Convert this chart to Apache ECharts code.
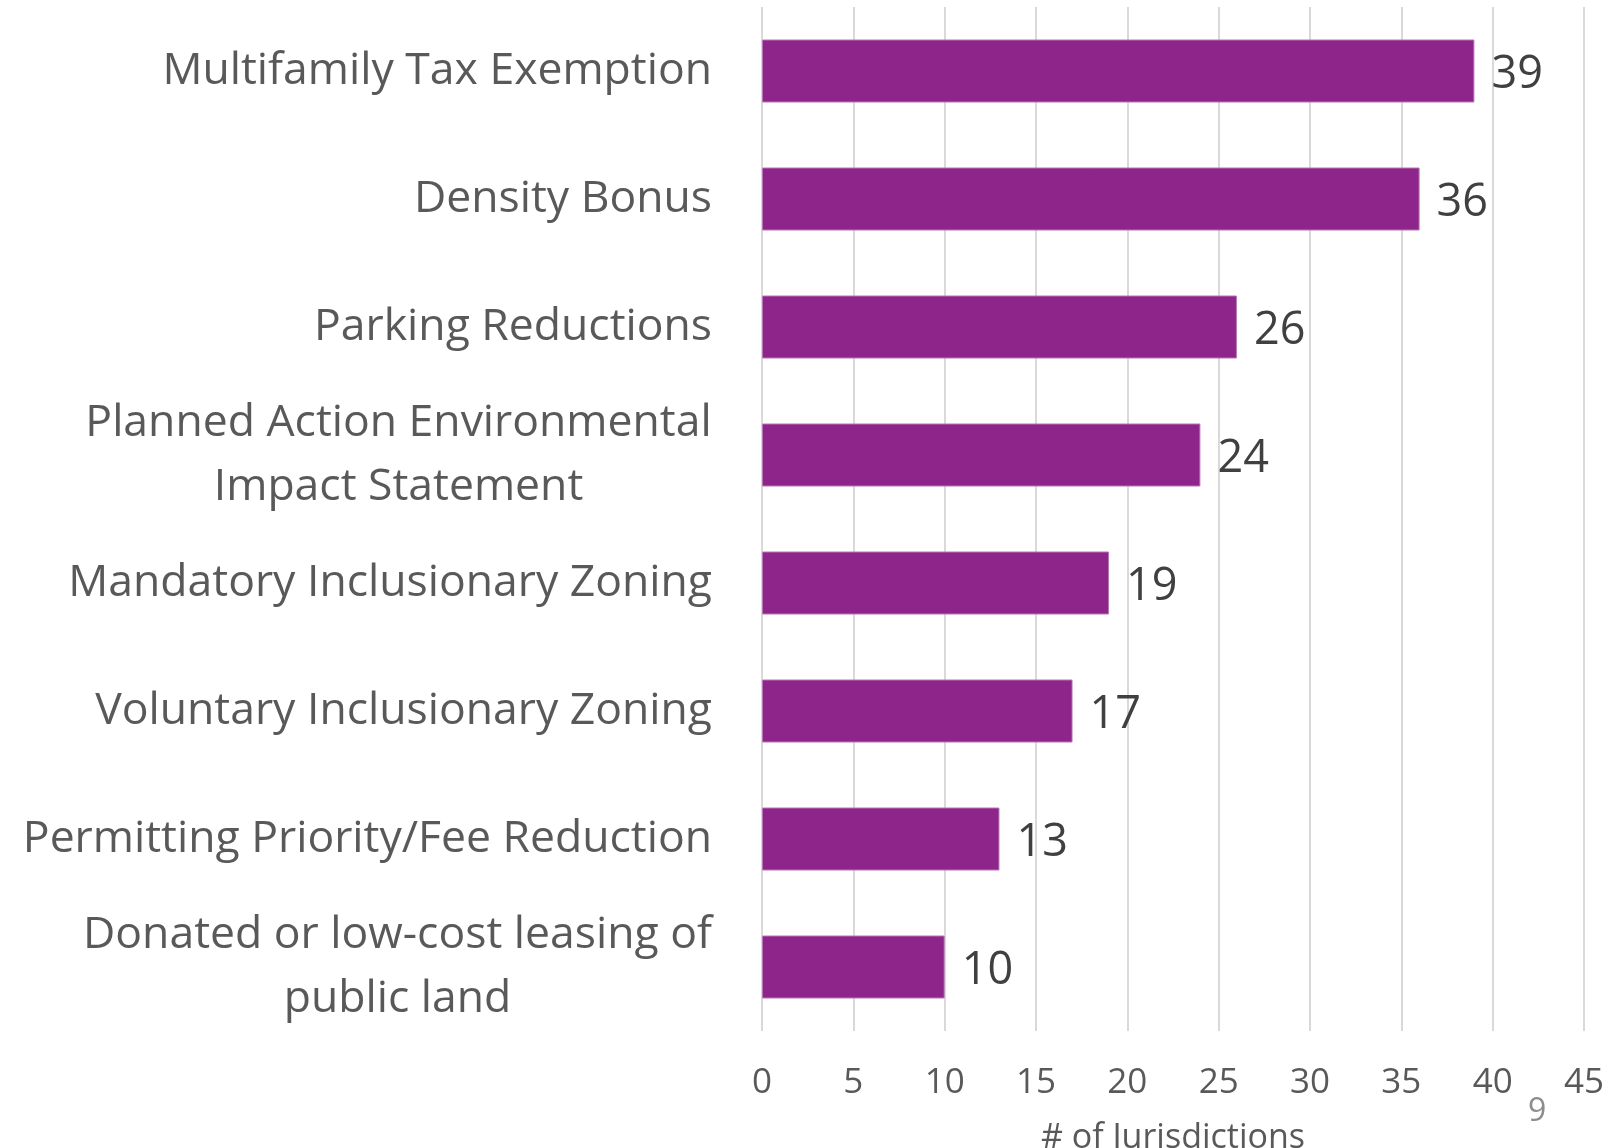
<!DOCTYPE html>
<html>
<head>
<meta charset="utf-8">
<script src="https://cdn.jsdelivr.net/npm/echarts@6/dist/echarts.min.js"></script>
<style>
  html, body { margin: 0; padding: 0; background: #fff; }
  #chart { width: 1617px; height: 1148px; }
</style>
</head>
<body>
<div id="chart"></div>
<script>
const categories = [
  'Multifamily Tax Exemption',
  'Density Bonus',
  'Parking Reductions',
  'Planned Action Environmental\nImpact Statement',
  'Mandatory Inclusionary Zoning',
  'Voluntary Inclusionary Zoning',
  'Permitting Priority/Fee Reduction',
  'Donated or low-cost leasing of\npublic land'
]
const jurisdictions = [39, 36, 26, 24, 19, 17, 13, 10]
const xMin = 0
const xMax = 45
const xStep = 5

const FONT = '"Open Sans", "Noto Sans", sans-serif'
const catSize = 44.5

// two-line labels are centred on their longest line, the block stays right-aligned
const ctx = document.createElement('canvas').getContext('2d')
ctx.font = catSize + 'px ' + FONT
const rich = {}
categories.forEach((c, i) => {
  if (c.indexOf('\n') < 0) return
  const w = Math.max(...c.split('\n').map(s => ctx.measureText(s).width))
  rich['c' + i] = { width: Math.ceil(w), align: 'center', fontSize: catSize, lineHeight: 64, color: '#595959', fontFamily: FONT }
})

const chart = echarts.init(document.getElementById('chart'))

chart.setOption({
  animation: false,
  textStyle: { fontFamily: FONT },
  grid: { left: 762, right: 33, top: 7, bottom: 117, containLabel: false, outerBoundsMode: 'none' },
  xAxis: {
    type: 'value',
    min: xMin,
    max: xMax,
    interval: xStep,
    axisLine: { show: false },
    axisTick: { show: false },
    splitLine: { show: true, lineStyle: { color: '#d9d9d9', width: 2 } },
    axisLabel: { fontSize: 35, color: '#595959', margin: 35, fontFamily: FONT },
    name: '# of Jurisdictions',
    nameLocation: 'middle',
    nameGap: 90,
    nameTextStyle: { fontSize: 34, color: '#595959', fontFamily: FONT }
  },
  yAxis: {
    type: 'category',
    inverse: true,
    data: categories,
    axisLine: { show: false },
    axisTick: { show: false },
    splitLine: { show: false },
    axisLabel: {
      fontSize: catSize,
      color: '#595959',
      margin: 50,
      lineHeight: 64,
      fontFamily: FONT,
      rich: rich,
      formatter: (value, idx) => {
        if (value.indexOf('\n') < 0) return value
        return value.split('\n').map(s => '{c' + idx + '|' + s + '}').join('\n')
      }
    }
  },
  series: [{
    type: 'bar',
    data: jurisdictions,
    barWidth: 63,
    itemStyle: { color: '#8E258A', borderColor: '#b777b4', borderWidth: 1 },
    label: {
      show: true,
      position: 'right',
      distance: 17,
      offset: [0, 4],
      fontSize: 45,
      color: '#404040',
      fontFamily: FONT
    }
  }],
  graphic: [{
    type: 'text',
    left: 1528,
    top: 1096,
    style: { text: '9', fontSize: 32, fill: '#8c8c8c', fontFamily: FONT }
  }]
})
</script>
</body>
</html>
